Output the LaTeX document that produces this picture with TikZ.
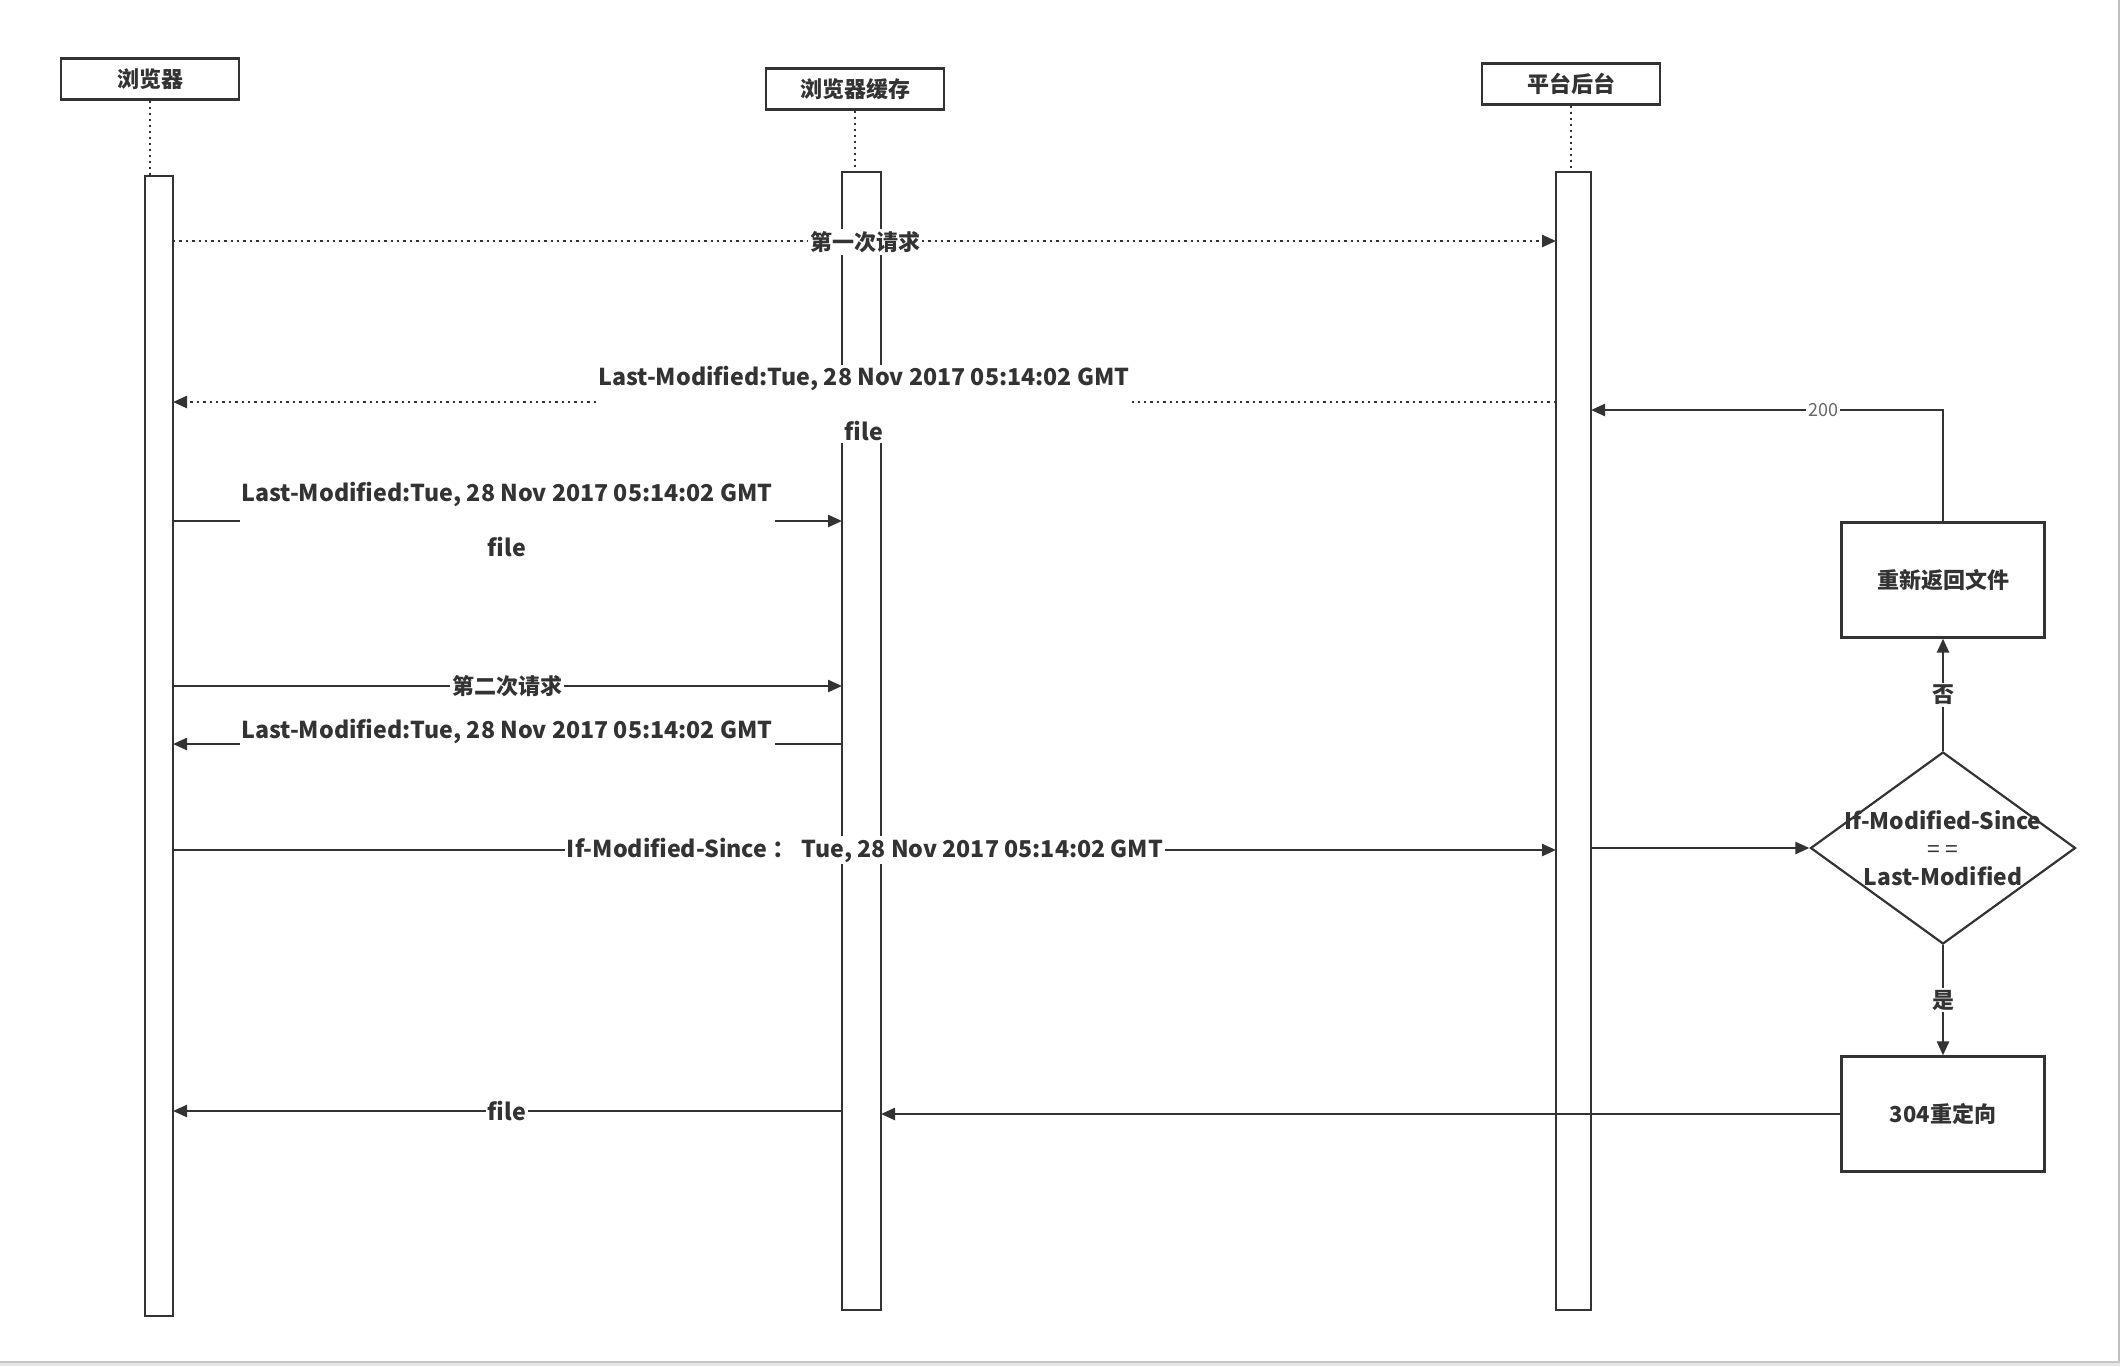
\documentclass[tikz,border=0pt]{standalone}
\usepackage{fontspec}
\setmainfont{Noto Sans CJK SC}
\usetikzlibrary{shapes.geometric,arrows.meta}
\definecolor{ink}{HTML}{333333}
\tikzset{
  every node/.style={font=\fontsize{11}{13}\selectfont\bfseries, text=ink},
  partbox/.style={draw=ink, line width=1.2pt, minimum width=89pt, minimum height=20.5pt, inner sep=0pt},
  actbar/.style={draw=ink, line width=1pt, fill=white, inner sep=0pt, outer sep=0pt},
  procbox/.style={draw=ink, line width=1.1pt, minimum width=101.5pt, minimum height=57.5pt, inner sep=0pt},
  lifeline/.style={draw=ink, line width=1pt, dotted},
  msg/.style={draw=ink, line width=1.2pt, -{Triangle[length=7pt,width=6pt]}},
  dmsg/.style={msg, dotted},
  lbl/.style={fill=white, inner sep=1pt},
  latlbl/.style={fill=white, inner sep=1pt, font=\fontsize{11.6}{13}\selectfont\bfseries},
  twoline/.style={fill=white, inner sep=1pt, align=center, font=\fontsize{11.6}{27.5}\selectfont\bfseries},
}
\begin{document}
\begin{tikzpicture}[x=0.5pt,y=-0.5pt]
\useasboundingbox (0,0) rectangle (2120,1366);
% page frame
\fill[gray!45] (0,1361) rectangle (2120,1363);
\fill[gray!20] (0,1363) rectangle (2120,1366);
\fill[gray!50] (2118,0) rectangle (2120,1361);

% participants
\node[partbox] (p1) at (150,79) {浏览器};
\node[partbox] (p2) at (855,89) {浏览器缓存};
\node[partbox] (p3) at (1571,84) {平台后台};

% activation bars
\node[actbar, minimum width=14pt, minimum height=570pt] (b1) at (159,746) {};
\node[actbar, minimum width=19.5pt, minimum height=569pt] (b2) at (861.5,741) {};
\node[actbar, minimum width=17.5pt, minimum height=569pt] (b3) at (1573.5,741) {};

% lifelines
\draw[lifeline] (p1.south) -- (p1.south |- b1.north);
\draw[lifeline] (p2.south) -- (p2.south |- b2.north);
\draw[lifeline] (p3.south) -- (p3.south |- b3.north);

% decision part
\node[draw=ink, line width=1.1pt, shape=diamond, minimum width=132.5pt, minimum height=96pt, inner sep=0pt] (dia) at (1943,848) {};
\node[align=center, font=\fontsize{11.4}{14}\selectfont\bfseries] (diat) at (dia.center) {If-Modified-Since\\{\mdseries= =}\\Last-Modified};
\node[procbox] (ret) at (1943,580) {重新返回文件};
\node[procbox] (r304) at (1943,1114) {304重定向};

% messages
\draw[dmsg] (b1.east |- 0,241) -- (b3.west |- 0,241);
\node[lbl] (m1) at (865,242) {第一次请求};

\draw[dmsg] (b3.west |- 0,402) -- (b1.east |- 0,402);
\node[twoline] (m2) at (864,404) {Last-Modified:Tue, 28 Nov 2017 05:14:02 GMT\\file};

\draw[msg] (b1.east |- 0,521) -- (b2.west |- 0,521);
\node[twoline] (m3) at (507,520) {Last-Modified:Tue, 28 Nov 2017 05:14:02 GMT\\file};

\draw[msg] (b1.east |- 0,686) -- (b2.west |- 0,686);
\node[lbl] (m4) at (507,686) {第二次请求};

\draw[msg] (b2.west |- 0,744) -- (b1.east |- 0,744);
\node[latlbl] (m5) at (507,731) {Last-Modified:Tue, 28 Nov 2017 05:14:02 GMT};

\draw[msg] (b1.east |- 0,850) -- (b3.west |- 0,850);
\node[latlbl] (m6) at (865,850) {If-Modified-Since ： Tue, 28 Nov 2017 05:14:02 GMT};

\draw[msg] (b3.east |- dia.west) -- (dia.west);

\draw[msg] (dia.north) -- node[lbl] (no) {否} (ret.south);
\draw[msg] (dia.south) -- node[lbl] (yes) {是} (r304.north);

\coordinate (c200) at (1943,410);
\draw[msg] (ret.north) -- (c200) -- node[pos=0.34, fill=white, inner sep=1pt, font=\fontsize{9}{11}\selectfont, text=gray!80!black] (l200) {200} (b3.east |- c200);

\draw[msg] (r304.west) -- (b2.east |- r304.west);

\draw[msg] (b2.west |- 0,1111) -- (b1.east |- 0,1111);
\node[latlbl] (m7) at (507,1111) {file};
\end{tikzpicture}
\end{document}
